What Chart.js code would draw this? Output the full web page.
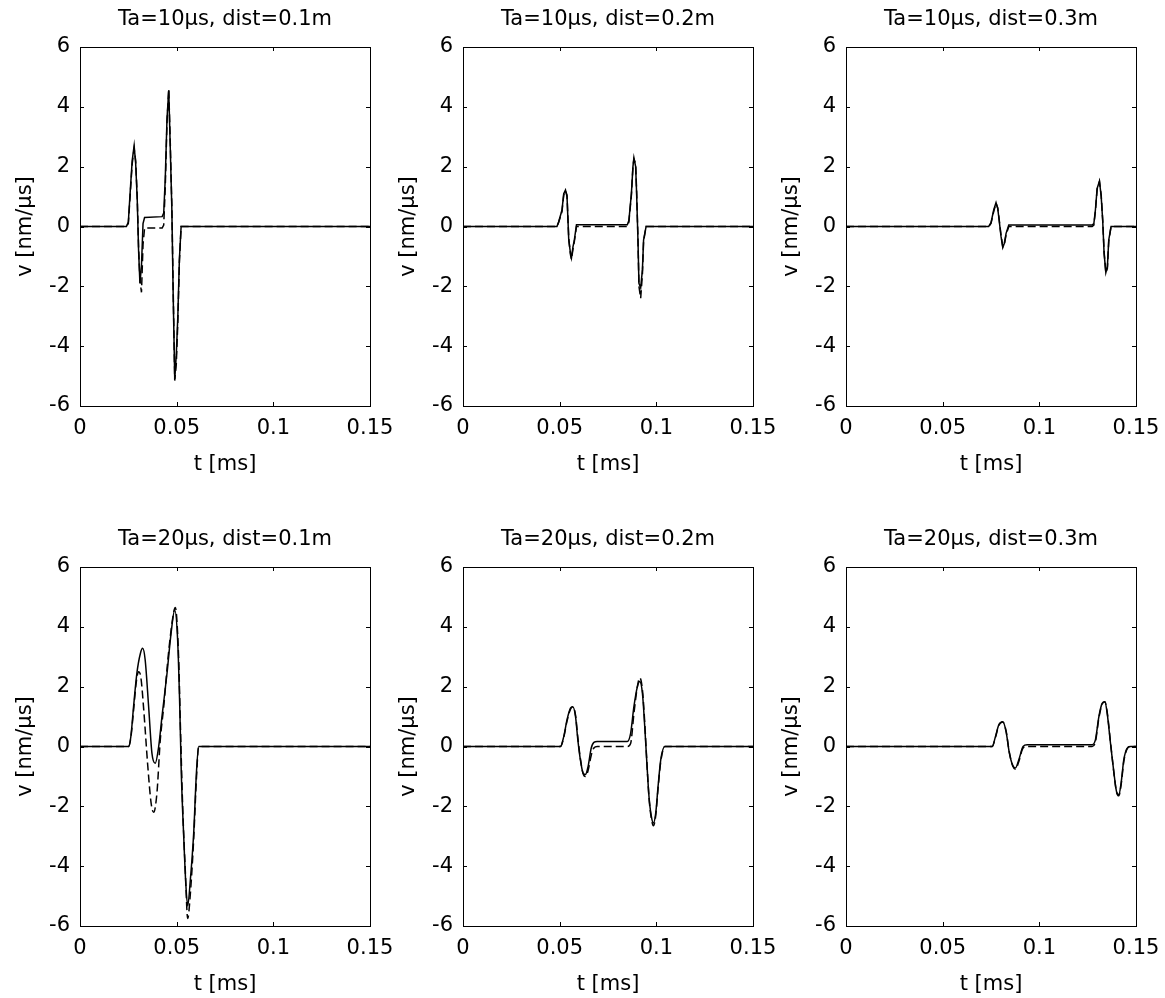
<!DOCTYPE html>
<html><head><meta charset="utf-8">
<script src="https://cdn.jsdelivr.net/npm/chart.js@4/dist/chart.umd.min.js"></script>
<style>
html,body{margin:0;padding:0;background:#fff;width:1165px;height:998px;overflow:hidden;position:relative}
canvas{position:absolute}
</style></head><body>
<canvas id="c0" width="400" height="481" style="left:0px;top:0px"></canvas>
<canvas id="c1" width="400" height="481" style="left:383px;top:0px"></canvas>
<canvas id="c2" width="400" height="481" style="left:766px;top:0px"></canvas>
<canvas id="c3" width="400" height="481" style="left:0px;top:520px"></canvas>
<canvas id="c4" width="400" height="481" style="left:383px;top:520px"></canvas>
<canvas id="c5" width="400" height="481" style="left:766px;top:520px"></canvas>
<script>
// ---- axis ticks / labels ----
const xTickValues = [0, 0.05, 0.1, 0.15];
const xTickLabels = ['0', '0.05', '0.1', '0.15'];
const yTickValues = [-6, -4, -2, 0, 2, 4, 6];
const yTickLabels = ['-6', '-4', '-2', '0', '2', '4', '6'];
const titles = ['Ta=10\u03BCs, dist=0.1m', 'Ta=10\u03BCs, dist=0.2m', 'Ta=10\u03BCs, dist=0.3m',
                'Ta=20\u03BCs, dist=0.1m', 'Ta=20\u03BCs, dist=0.2m', 'Ta=20\u03BCs, dist=0.3m'];
const xLabel = 't [ms]';
const yLabel = 'v [nm/\u03BCs]';

// ---- Ta=10us, dist=0.1m ----
const tA = [0, 0.0240, 0.0250, 0.0260, 0.0270, 0.0280, 0.0288, 0.0296, 0.0303, 0.0310, 0.0318, 0.0326, 0.0334,
            0.0425, 0.0433, 0.0441, 0.0450, 0.0459, 0.0467, 0.0475, 0.0482, 0.0490, 0.0498, 0.0506, 0.0514, 0.0523, 0.15];
const vA_solid  = [0, 0, 0.15, 1.2, 2.2, 2.7, 2.1, 0.9, -0.8, -1.9, -1.3, 0.1, 0.3,
                   0.33, 0.45, 1.6, 3.6, 4.55, 2.6, 0.6, -2.3, -5.1, -4.3, -3.0, -1.1, 0, 0];
const vA_dashed = [0, 0, 0.1, 1.1, 2.1, 2.6, 2.2, 1.0, -0.7, -1.8, -2.2, -0.6, -0.05,
                   -0.05, 0.05, 1.3, 3.5, 4.6, 2.8, 0.7, -2.1, -5.15, -4.6, -3.2, -1.2, 0, 0];

// ---- Ta=10us, dist=0.2m ----
const tB = [0, 0.0486, 0.0495, 0.0512, 0.0521, 0.0530, 0.0538, 0.0547, 0.0556, 0.0561, 0.0569, 0.0576, 0.0587,
            0.0850, 0.0858, 0.0871, 0.0879, 0.0884, 0.0893, 0.0898, 0.0905, 0.0910, 0.0919, 0.0928, 0.0934, 0.0947, 0.15];
const vB_solid  = [0, 0, 0.16, 0.55, 1.1, 1.22, 1.0, -0.45, -0.9, -1.05, -0.67, -0.45, 0.06,
                   0.06, 0.2, 1.1, 2.0, 2.3, 2.0, 1.1, -0.45, -1.9, -2.05, -1.45, -0.45, 0, 0];
const vB_dashed = [0, 0, 0.14, 0.5, 1.05, 1.2, 1.05, -0.4, -0.95, -1.1, -0.75, -0.5, 0,
                   0, 0.15, 1.05, 2.0, 2.25, 2.1, 1.2, -0.4, -2.0, -2.4, -1.6, -0.5, 0, 0];

// ---- Ta=10us, dist=0.3m ----
const tC = [0, 0.0738, 0.0750, 0.0764, 0.0776, 0.0785, 0.0793, 0.0802, 0.0811, 0.0819, 0.0828, 0.0842,
            0.1273, 0.1282, 0.1290, 0.1299, 0.1311, 0.1320, 0.1328, 0.1335, 0.1344, 0.1352, 0.1359, 0.1371, 0.15];
const vC_solid  = [0, 0, 0.13, 0.55, 0.8, 0.6, 0.16, -0.34, -0.7, -0.56, -0.23, 0.05,
                   0.05, 0.1, 0.55, 1.27, 1.52, 1.0, 0.16, -0.9, -1.54, -1.34, -0.45, 0, 0];
const vC_dashed = [0, 0, 0.1, 0.5, 0.78, 0.62, 0.2, -0.3, -0.68, -0.6, -0.28, 0,
                   0, 0.05, 0.5, 1.25, 1.5, 1.05, 0.2, -0.85, -1.55, -1.4, -0.5, 0, 0];

// ---- Ta=20us, dist=0.1m ----
const tD_solid = [0, 0.0251, 0.0263, 0.0277, 0.0294, 0.0312, 0.0324, 0.0337, 0.0355, 0.0372, 0.0389, 0.0407,
                  0.0424, 0.0450, 0.0471, 0.0490, 0.0505, 0.0516, 0.0524, 0.0537, 0.0547, 0.0557, 0.0571, 0.0588, 0.0602, 0.0614, 0.15];
const vD_solid = [0, 0, 0.33, 1.33, 2.44, 3.1, 3.28, 2.9, 1.33, -0.22, -0.56, 0,
                  1.0, 2.44, 3.78, 4.56, 3.56, 1.33, -0.89, -3.1, -4.56, -5.33, -4.44, -2.9, -0.9, 0, 0];
const tD_dashed = [0, 0.0251, 0.0263, 0.0277, 0.0290, 0.0303, 0.0315, 0.0330, 0.0350, 0.0368, 0.0381, 0.0398, 0.0415, 0.0433,
                   0.0459, 0.0485, 0.0493, 0.0510, 0.0519, 0.0531, 0.0545, 0.0557, 0.0571, 0.0588, 0.0602, 0.0614, 0.15];
const vD_dashed = [0, 0, 0.3, 1.2, 2.1, 2.5, 2.3, 1.2, -0.6, -1.9, -2.2, -1.55, 0.2, 1.33,
                   3.2, 4.5, 4.65, 3.0, 0.78, -2.0, -4.2, -5.75, -4.9, -3.1, -1.1, 0, 0];

// ---- Ta=20us, dist=0.2m ----
const tE = [0, 0.0504, 0.0521, 0.0538, 0.0556, 0.0568, 0.0582, 0.0594, 0.0607, 0.0621, 0.0633, 0.0647, 0.0663, 0.0677, 0.0694,
            0.0850, 0.0867, 0.0884, 0.0902, 0.0914, 0.0928, 0.0940, 0.0950, 0.0962, 0.0974, 0.0985, 0.0997, 0.1009, 0.1023, 0.1044, 0.15];
const vE_solid  = [0, 0, 0.33, 0.89, 1.28, 1.33, 1.0, 0.22, -0.44, -0.89, -0.94, -0.67, -0.06, 0.14, 0.17,
                   0.17, 0.44, 1.33, 2.0, 2.17, 1.78, 0.67, -0.44, -1.67, -2.33, -2.56, -2.22, -1.33, -0.44, 0, 0];
const vE_dashed = [0, 0, 0.3, 0.85, 1.25, 1.33, 1.05, 0.3, -0.4, -0.9, -1.0, -0.8, -0.3, -0.05, 0,
                   0, 0.1, 1.1, 2.0, 2.3, 1.9, 0.8, -0.4, -1.7, -2.4, -2.65, -2.3, -1.4, -0.5, 0, 0];

// ---- Ta=20us, dist=0.3m ----
const tF = [0, 0.0756, 0.0773, 0.0790, 0.0811, 0.0828, 0.0845, 0.0863, 0.0876, 0.0894, 0.0916, 0.0937,
            0.1273, 0.1290, 0.1308, 0.1325, 0.1339, 0.1351, 0.1368, 0.1386, 0.1399, 0.1411, 0.1423, 0.1437, 0.1454, 0.1472, 0.15];
const vF_solid  = [0, 0, 0.33, 0.72, 0.83, 0.5, -0.22, -0.64, -0.72, -0.44, 0, 0.06,
                   0.06, 0.22, 1.0, 1.44, 1.5, 1.11, 0.11, -0.89, -1.5, -1.61, -1.22, -0.44, -0.06, 0, 0];
const vF_dashed = [0, 0, 0.3, 0.7, 0.82, 0.52, -0.2, -0.66, -0.76, -0.5, -0.05, 0,
                   0, 0.15, 0.95, 1.42, 1.5, 1.15, 0.15, -0.9, -1.52, -1.65, -1.28, -0.5, -0.08, 0, 0];

const panels = [
  {solid: [tA, vA_solid], dashed: [tA, vA_dashed], smooth: false},
  {solid: [tB, vB_solid], dashed: [tB, vB_dashed], smooth: false},
  {solid: [tC, vC_solid], dashed: [tC, vC_dashed], smooth: false},
  {solid: [tD_solid, vD_solid], dashed: [tD_dashed, vD_dashed], smooth: true},
  {solid: [tE, vE_solid], dashed: [tE, vE_dashed], smooth: true},
  {solid: [tF, vF_solid], dashed: [tF, vF_dashed], smooth: true}
];

const FONT = 'DejaVu Sans';
const FS = 21;
Chart.defaults.font.family = FONT;
Chart.defaults.color = '#000';

const boxPlugin = {
  id: 'matlabBox',
  afterDatasetsDraw(chart) {
    const {ctx, chartArea: a, scales: {x, y}} = chart;
    ctx.save();
    ctx.strokeStyle = '#000';
    ctx.lineWidth = 1;
    ctx.strokeRect(a.left + 0.5, a.top + 0.5, a.right - a.left, a.bottom - a.top);
    const L = 4;
    ctx.beginPath();
    xTickValues.slice(1, -1).forEach(v => {
      const px = Math.round(x.getPixelForValue(v)) + 0.5;
      ctx.moveTo(px, a.bottom); ctx.lineTo(px, a.bottom - L);
      ctx.moveTo(px, a.top); ctx.lineTo(px, a.top + L);
    });
    yTickValues.slice(1, -1).forEach(v => {
      const py = Math.round(y.getPixelForValue(v)) + 0.5;
      ctx.moveTo(a.left, py); ctx.lineTo(a.left + L, py);
      ctx.moveTo(a.right, py); ctx.lineTo(a.right - L, py);
    });
    ctx.stroke();
    ctx.restore();
  }
};

function pts(pair) { return pair[0].map((t, i) => ({x: t, y: pair[1][i]})); }

panels.forEach((p, k) => {
  const lineOpts = {
    borderColor: '#000', pointRadius: 0, fill: false,
    cubicInterpolationMode: p.smooth ? 'monotone' : 'default', tension: 0
  };
  new Chart(document.getElementById('c' + k), {
    type: 'line',
    data: {
      datasets: [
        Object.assign({data: pts(p.solid), borderWidth: 1.5}, lineOpts),
        Object.assign({data: pts(p.dashed), borderWidth: 1.5, borderDash: [8, 4]}, lineOpts)
      ]
    },
    options: {
      responsive: false, animation: false, parsing: false,
      layout: {padding: {left: 0, right: 30, top: 0, bottom: 0}},
      plugins: {
        legend: {display: false}, tooltip: {enabled: false},
        title: {display: true, text: titles[k], color: '#000', align: 'center', fullSize: false,
                font: {family: FONT, size: FS, weight: 'normal', lineHeight: 1.2},
                padding: {top: 7, bottom: 14.8}}
      },
      scales: {
        x: {
          type: 'linear', min: 0, max: 0.15,
          afterBuildTicks: s => { s.ticks = xTickValues.map(v => ({value: v})); },
          afterFit: s => { s.height = 75; s.paddingLeft = 0; s.paddingRight = 0; },
          ticks: {autoSkip: false, maxRotation: 0, padding: 10, color: '#000',
                  font: {family: FONT, size: FS}, callback: (v, i) => xTickLabels[i]},
          grid: {display: false, drawTicks: false},
          border: {display: false},
          title: {display: true, text: xLabel, color: '#000',
                  font: {family: FONT, size: FS, lineHeight: 1.2}, padding: {top: 4, bottom: 4}}
        },
        y: {
          type: 'linear', min: -6, max: 6,
          afterBuildTicks: s => { s.ticks = yTickValues.map(v => ({value: v})); },
          afterFit: s => { s.width = 80; s.paddingTop = 0; s.paddingBottom = 0; },
          ticks: {autoSkip: false, padding: 10, color: '#000',
                  font: {family: FONT, size: FS}, callback: (v, i) => yTickLabels[i]},
          grid: {display: false, drawTicks: false},
          border: {display: false},
          title: {display: true, text: yLabel, color: '#000',
                  font: {family: FONT, size: FS, lineHeight: 1.2}, padding: {top: 13, bottom: 0}}
        }
      }
    },
    plugins: [boxPlugin]
  });
});
</script>
</body></html>
